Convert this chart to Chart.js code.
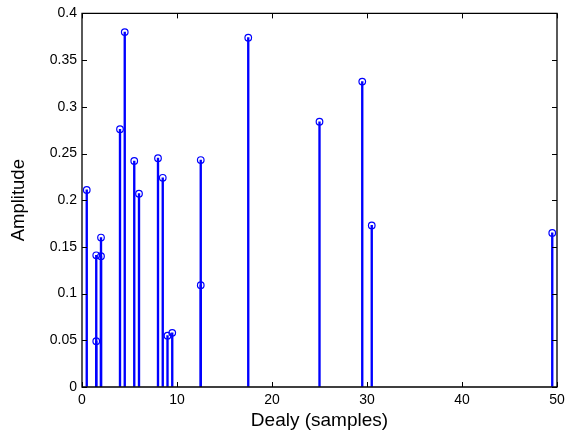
<!DOCTYPE html>
<html>
<head>
<meta charset="utf-8">
<script src="https://cdn.jsdelivr.net/npm/chart.js@4/dist/chart.umd.min.js"></script>
<style>
html,body{margin:0;padding:0;background:#fff;}
#wrap{width:565px;height:439px;}
</style>
</head>
<body>
<div id="wrap"><canvas id="c" width="565" height="439"></canvas></div>
<script>
// Data
const delays = [0.5, 1.5, 1.5, 2, 2, 4, 4.5, 5.5, 6, 8, 8.5, 9, 9.5, 12.5, 12.5, 17.5, 25, 29.5, 30.5, 49.5];
const amplitudes = [0.211, 0.141, 0.049, 0.160, 0.140, 0.276, 0.380, 0.242, 0.207, 0.245, 0.224, 0.055, 0.058, 0.243, 0.109, 0.374, 0.284, 0.327, 0.173, 0.165];
const xTicks = [0, 10, 20, 30, 40, 50];
const yTicks = [0, 0.05, 0.1, 0.15, 0.2, 0.25, 0.3, 0.35, 0.4];
const xLabel = 'Dealy (samples)';
const yLabel = 'Amplitude';

const points = delays.map((d, i) => ({x: d, y: amplitudes[i]}));
const FONT = '"Liberation Sans", Arial, Helvetica, sans-serif';

const boxPlugin = {
  id: 'boxTicks',
  afterDraw(chart) {
    const ctx = chart.ctx, a = chart.chartArea;
    const xs = chart.scales.x, ys = chart.scales.y;
    ctx.save();
    ctx.strokeStyle = '#000';
    ctx.lineWidth = 1.3;
    ctx.beginPath();
    ctx.rect(a.left, a.top, a.right - a.left, a.bottom - a.top);
    ctx.stroke();
    ctx.lineWidth = 1;
    ctx.beginPath();
    xTicks.forEach(v => {
      const p = Math.round(xs.getPixelForValue(v)) + 0.5;
      ctx.moveTo(p, a.bottom); ctx.lineTo(p, a.bottom - 5);
      ctx.moveTo(p, a.top); ctx.lineTo(p, a.top + 5);
    });
    yTicks.forEach(v => {
      const p = Math.round(ys.getPixelForValue(v)) + 0.5;
      ctx.moveTo(a.left, p); ctx.lineTo(a.left + 5, p);
      ctx.moveTo(a.right, p); ctx.lineTo(a.right - 5, p);
    });
    ctx.stroke();
    ctx.restore();
  }
};

new Chart(document.getElementById('c'), {
  type: 'scatter',
  data: {
    datasets: [
      {
        type: 'scatter',
        data: points,
        pointStyle: 'circle',
        pointRadius: 3.3,
        pointHoverRadius: 3.3,
        pointBorderWidth: 1.2,
        borderColor: '#0000ff',
        backgroundColor: 'rgba(0,0,0,0)',
        order: 0
      },
      {
        type: 'bar',
        data: points,
        backgroundColor: '#0000ff',
        borderWidth: 0,
        barThickness: 1.7,
        order: 1
      }
    ]
  },
  plugins: [boxPlugin],
  options: {
    responsive: false,
    animation: false,
    events: [],
    layout: {padding: {left: 0, right: 2, top: 13, bottom: 0}},
    plugins: {legend: {display: false}, tooltip: {enabled: false}},
    scales: {
      x: {
        type: 'linear',
        min: 0, max: 50,
        offset: false,
        afterFit: s => { s.height = 52; s.paddingRight = 8; },
        afterBuildTicks: s => { s.ticks = xTicks.map(v => ({value: v})); },
        grid: {display: true, drawOnChartArea: false, drawTicks: false, color: 'rgba(0,0,0,0)'},
        border: {display: false},
        ticks: {color: '#000', font: {family: FONT, size: 14}, padding: 5, maxRotation: 0},
        title: {display: true, text: xLabel, color: '#000', font: {family: FONT, size: 19}, padding: {top: 2, bottom: 7}}
      },
      y: {
        type: 'linear',
        min: 0, max: 0.4,
        afterFit: s => { s.width = 82; },
        afterBuildTicks: s => { s.ticks = yTicks.map(v => ({value: v})); },
        grid: {display: true, drawOnChartArea: false, drawTicks: false, color: 'rgba(0,0,0,0)'},
        border: {display: false},
        ticks: {color: '#000', font: {family: FONT, size: 14}, padding: 5,
          callback: v => String(Math.round(v * 100) / 100)},
        title: {display: true, text: yLabel, color: '#000', font: {family: FONT, size: 18.5}, padding: {top: 8, bottom: 0}}
      }
    }
  }
});
</script>
</body>
</html>
